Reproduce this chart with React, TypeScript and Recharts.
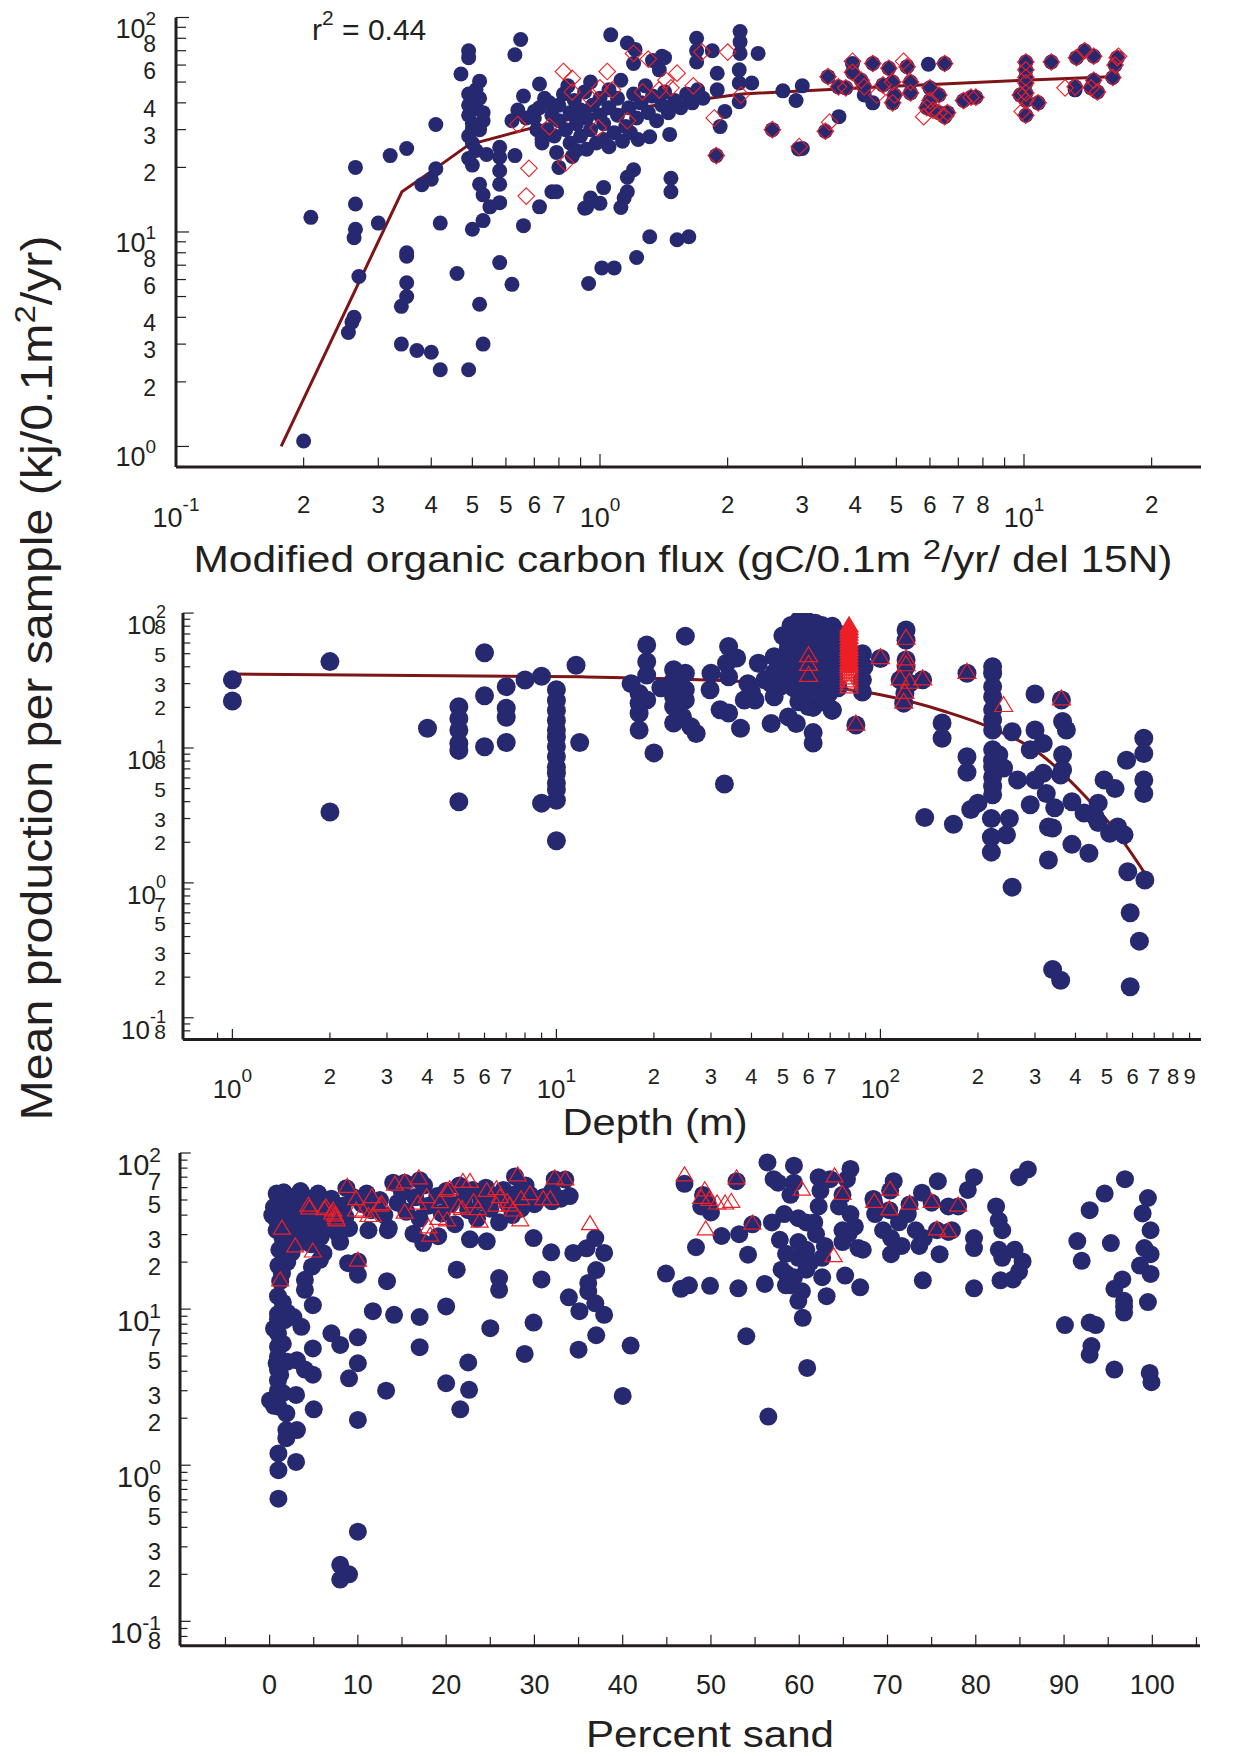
import React from "react";
import { ScatterChart, Scatter, XAxis, YAxis } from "recharts";

const INK = "#231F20";
const NAVY = "#272970";
const RED = "#EC2027";
const FIT = "#7D1416";
const FONT = "'Liberation Sans', Arial, Helvetica, sans-serif";

type Pt = [number, number];
const toXY = (a: Pt[]) => a.map(([x, y]) => ({ x, y }));

/* ---------- panel A: modified organic carbon flux ---------- */
const fluxTicks = [0.1, 0.2, 0.3, 0.4, 0.5, 0.6, 0.7, 0.8, 0.9, 1, 2, 3, 4, 5, 6, 7, 8, 9, 10, 20];
const fluxTickText = ["10^-1", "2", "3", "4", "5", "5", "6", "7", "", "10^0", "2", "3", "4", "5", "6", "7", "8", "", "10^1", "2"];
const prodTicksA = [1, 2, 3, 4, 5, 6, 7, 8, 9, 10, 20, 30, 40, 50, 60, 70, 80, 90, 100];
const prodTextA = ["10^0", "2", "3", "4", "", "6", "", "8", "", "10^1", "2", "3", "4", "", "6", "", "8", "", "10^2"];

const fluxDots: Pt[] = [
  [0.2, 1.06], [0.208, 11.7], [0.265, 20], [0.265, 13.5], [0.265, 10.3], [0.263, 9.4], [0.27, 6.2], [0.263, 4.0], [0.26, 3.8], [0.255, 3.4],
  [0.3, 11], [0.32, 22.7], [0.35, 24.5], [0.35, 8.0], [0.35, 7.7], [0.35, 5.8], [0.35, 5.0], [0.34, 4.5], [0.34, 3.0], [0.37, 2.8],
  [0.4, 2.75], [0.42, 2.28], [0.49, 2.28], [0.53, 3.0], [0.52, 4.6], [0.46, 6.4], [0.58, 7.2], [0.62, 5.7], [0.42, 11], [0.41, 31.7],
  [0.38, 16.6], [0.4, 17.6], [0.41, 19.7], [0.47, 54.5], [0.49, 70], [0.49, 65], [0.52, 50.5],
  [0.49, 44], [0.5, 41], [0.51, 38], [0.49, 35], [0.5, 32], [0.52, 30], [0.49, 28], [0.5, 26], [0.51, 24], [0.49, 22], [0.5, 20.5],
  [0.52, 42], [0.53, 36], [0.53, 33], [0.51, 46], [0.49, 39], [0.5, 30],
  [0.54, 23], [0.5, 10.3], [0.53, 11.3], [0.52, 16.7], [0.53, 14.9], [0.55, 13.1], [0.58, 13.7], [0.58, 16.7], [0.58, 19.3], [0.58, 22.3],
  [0.58, 24.8], [0.63, 22.7], [0.64, 37], [0.65, 79], [0.63, 67], [0.66, 43], [0.66, 10.7], [0.72, 13.1], [0.72, 49], [0.77, 15.4],
  [0.79, 15.4], [0.94, 5.75], [0.92, 12.9], [1.0, 13.6], [1.02, 16.1], [1.01, 6.8], [0.62, 33], [0.67, 34],
  [0.76, 40], [0.7, 36.5], [0.71, 30], [0.73, 27], [0.79, 23.5], [0.8, 20], [0.86, 22.5], [0.93, 24.3], [0.93, 13], [0.95, 14.4],
  [1.05, 25], [1.13, 26.5], [1.23, 27], [1.31, 27.8], [1.46, 28.5], [1.2, 19.5], [1.16, 18], [1.16, 15.4], [1.14, 14.4], [1.12, 13],
  [1.47, 17.8], [1.47, 15.4], [1.31, 9.5], [1.52, 9.2], [1.62, 9.5], [1.22, 7.6], [1.08, 6.8],
  [0.7, 34], [0.72, 38], [0.74, 42], [0.75, 30], [0.77, 35], [0.78, 28], [0.8, 33], [0.8, 39], [0.82, 44], [0.83, 30],
  [0.85, 26], [0.85, 36], [0.87, 41], [0.88, 32], [0.9, 28], [0.9, 37], [0.92, 45], [0.93, 34], [0.95, 30], [0.96, 39],
  [0.98, 26], [1.0, 35], [1.0, 42], [1.02, 32], [1.05, 38], [1.05, 46], [1.08, 29], [1.1, 35], [1.1, 42], [1.12, 51],
  [1.15, 31], [1.17, 38], [1.2, 44], [1.22, 34], [1.25, 40], [1.28, 48], [1.3, 36], [1.33, 43], [1.36, 33], [1.4, 39],
  [1.42, 45], [1.45, 36], [1.5, 41], [1.55, 38], [1.6, 44], [1.65, 40], [1.7, 46], [1.75, 42], [0.73, 26], [0.88, 24],
  [1.02, 27], [1.18, 29], [0.95, 50], [0.84, 48],
  [1.06, 83], [1.16, 76], [1.21, 71], [1.2, 61], [1.33, 63], [1.4, 66], [1.38, 57], [1.42, 65], [1.69, 80], [1.69, 70],
  [1.69, 62], [1.84, 70], [2.14, 86], [2.14, 77], [2.14, 68], [2.13, 57], [2.13, 49.5], [2.13, 40.5], [2.36, 68], [2.28, 49.5],
  [1.89, 55], [1.89, 46], [1.97, 36.5], [1.92, 31], [2.7, 45.5], [3.0, 48], [2.9, 41], [3.66, 34.5], [3.0, 24.5],
  [2.55, 30], [2.94, 24.4], [1.88, 22.7], [3.4, 29.5], [3.45, 53], [3.65, 47.5], [3.8, 47], [3.94, 61], [3.94, 55.5], [4.13, 51],
  [4.2, 47.5], [4.2, 43.5], [4.4, 40], [4.4, 61], [4.8, 58], [4.65, 48.5], [4.9, 50], [5.3, 59], [5.4, 50], [5.4, 44.5],
  [4.95, 43.5], [4.9, 40], [5.95, 60.5], [6.5, 61], [6.0, 47], [6.3, 43.5], [6.0, 41], [5.9, 38], [6.1, 37], [6.3, 36],
  [6.6, 36], [6.5, 34.5], [7.2, 41], [7.5, 42.5], [7.7, 42.5], [10.1, 62], [10.1, 57], [10.1, 52.5], [10.1, 49.5], [10.1, 44.5],
  [10.1, 41], [9.8, 43.5], [10.8, 40], [10.1, 35], [11.6, 62], [13.3, 65], [13.9, 70], [14.6, 66], [13.2, 47.5], [13.2, 46],
  [14.6, 51], [14.9, 45], [14.4, 47], [16.2, 52.5], [16.4, 60], [16.6, 65],
];

const fluxDiamonds: Pt[] = [
  [0.64, 31.7], [0.68, 19.8], [0.67, 14.7], [0.76, 31], [0.83, 21], [0.82, 56], [0.86, 52], [0.86, 45], [0.95, 42], [1.0, 47],
  [1.04, 56], [1.07, 46], [0.99, 30.6], [1.16, 33], [1.2, 68], [1.3, 64], [1.26, 45], [1.38, 46], [1.43, 51], [1.47, 47],
  [1.52, 55], [1.66, 48], [1.74, 69], [2.0, 69], [2.15, 43.5], [1.86, 34], [1.88, 22.7], [2.55, 30], [2.95, 25],
  [3.48, 32.5], [3.4, 29.5], [3.45, 53], [3.65, 47.5], [3.8, 47], [3.94, 62.5], [3.94, 55.5], [4.13, 51], [4.2, 47.5], [4.4, 61],
  [4.5, 43.5], [4.8, 58], [4.65, 48.5], [4.9, 50], [5.2, 62.5], [5.3, 59], [5.4, 50], [5.4, 44.5], [4.95, 43.5], [4.9, 40],
  [6.5, 61], [6.0, 47], [6.3, 43.5], [6.0, 41], [5.9, 38], [6.1, 37], [6.3, 36], [6.6, 36], [6.5, 34.5], [5.8, 34.5],
  [7.2, 41], [7.5, 42.5], [7.7, 42.5], [10.1, 62], [10.1, 57], [10.1, 52.5], [10.1, 49.5], [10.1, 44.5], [10.1, 41], [9.8, 43.5],
  [10.8, 40], [10.1, 35], [9.9, 36.5], [11.6, 62], [13.3, 65], [13.9, 70], [14.6, 66], [13.2, 47.5], [12.5, 47], [14.6, 51],
  [14.9, 45], [14.4, 47], [16.2, 52.5], [16.4, 60], [16.6, 65], [16.7, 66],
];

const fluxFit: Pt[] = [
  [0.177, 1.0], [0.341, 15.4], [0.42, 20.5], [0.49, 25.5], [0.71, 31], [1.0, 36], [2.16, 44], [4.65, 47.5], [10, 51], [16, 53],
];

/* ---------- panel B: depth ---------- */
const depthTicks = [0.9, 1, 2, 3, 4, 5, 6, 7, 8, 9, 10, 20, 30, 40, 50, 60, 70, 80, 90, 100, 200, 300, 400, 500, 600, 700, 800, 900];
const depthTickText = ["", "10^0", "2", "3", "4", "5", "6", "7", "", "", "10^1", "2", "3", "4", "5", "6", "7", "", "", "10^2", "2", "3", "4", "5", "6", "7", "8", "9"];
const prodTicksB = [0.08, 0.09, 0.1, 0.2, 0.3, 0.4, 0.5, 0.6, 0.7, 0.8, 0.9, 1, 2, 3, 4, 5, 6, 7, 8, 9, 10, 20, 30, 40, 50, 60, 70, 80, 90, 100];
const prodTextB = ["8", "", "10^-1", "2", "3", "", "5", "", "7", "", "", "10^0", "2", "3", "", "5", "", "", "8", "", "10^1", "2", "3", "", "5", "", "", "8", "", "10^2"];

const depthDots: Pt[] = [
  [1.0, 32], [1.0, 22.3], [2.0, 43.7], [2.0, 3.35], [4.0, 14], [5, 20.2], [5, 16.5], [5, 13.6], [5, 10.8], [5, 9.6],
  [5, 4.0], [6, 50.8], [6, 24.4], [6, 10.2], [7, 28.5], [7, 19.7], [7, 16.9], [7, 11], [8, 31.9], [9, 34],
  [9, 3.9], [10, 27], [10, 22.5], [10, 19], [10, 16], [10, 13.6], [10, 12], [10, 10.2], [10, 8.6], [10, 7.2],
  [10, 6.5], [10, 5.5], [10, 4.9], [10, 4.1], [10, 2.05], [11.5, 41], [11.8, 11],
  [19, 58], [19, 43.6], [19, 34.7], [18, 25.4], [18, 21.5], [18, 18.1], [18, 13.6], [19, 22.7], [20, 9.2], [17, 30], [21, 28],
  [25, 67.5], [23, 38], [23, 31.8], [23, 24], [23, 20.3], [23, 15.3], [25, 35.8], [25, 27], [25, 22.7], [24.5, 17], [26, 14.4], [27, 12.8],
  [30, 35.8], [29.8, 27], [34, 56.5], [36, 46.5], [33.5, 42.5], [34, 33.7], [32, 19.2], [34, 18.2], [37, 14], [33, 5.4],
  [38, 22.7], [41, 22.7], [39, 30], [40, 26], [42, 42.5], [44, 32], [47, 47.5], [47, 36], [49, 28.5], [46, 15.2],
  [52, 17], [55, 15.2], [62, 13], [62, 10.9], [71, 19.2], [60, 20.3],
  [53, 81], [56, 88], [60, 86], [63, 84], [66, 81], [71, 80], [58, 75], [64, 72], [68, 70], [50, 68],
  [54, 62], [60, 62], [66, 60], [70, 64], [74, 56], [52, 55], [57, 50], [62, 52], [67, 48], [72, 50],
  [50, 45], [55, 42], [60, 40], [65, 43], [70, 38], [74, 44], [52, 36], [57, 33], [62, 35], [67, 31],
  [72, 33], [54, 28], [59, 26], [64, 28], [69, 25], [74, 28], [56, 22], [62, 20], [66, 22], [71, 19],
  [48, 38], [46, 30], [47, 24], [75, 64], [73, 72], [88, 50], [89, 40], [88, 32], [88, 26],
  [84, 14.8], [100, 46], [120, 75], [120, 63], [120, 45], [120, 40], [115, 32], [123, 30.2], [135, 32], [119, 25.4],
  [118, 21.5], [155, 15.3], [155, 11.8], [137, 3.05], [168, 2.72],
  [185, 35.8], [222, 40], [222, 35.8], [222, 28.5], [222, 24], [222, 19.2], [222, 16.2], [222, 13.6], [222, 9.7], [222, 8.1],
  [222, 7.25], [222, 6.1], [222, 5.2], [222, 4.5], [232, 8.9], [240, 7.1], [185, 8.6], [185, 6.6], [190, 3.5], [200, 3.9],
  [220, 3.0], [250, 3.0], [220, 2.18], [245, 2.27], [220, 1.69], [255, 0.93], [255, 13.2], [265, 5.8], [300, 25.1], [300, 13.6],
  [318, 10.8], [290, 9.7], [290, 3.8], [325, 4.6], [345, 3.6], [300, 5.8], [318, 6.5], [330, 2.6], [340, 2.55], [330, 1.48],
  [340, 0.228], [360, 0.19], [362, 22.7], [365, 15.7], [375, 13.6], [365, 8.9], [365, 6.9], [360, 6.3], [390, 4.0], [390, 1.93],
  [425, 3.3], [440, 1.66], [470, 3.9], [460, 3.1], [470, 2.8], [490, 5.8], [530, 5.0], [510, 2.33], [540, 2.6], [565, 2.27],
  [575, 8.1], [650, 11.8], [650, 9.1], [650, 5.8], [650, 4.6], [580, 1.21], [655, 1.05], [590, 0.6], [630, 0.37], [590, 0.17],
];

const depthTriangles: Pt[] = [
  [60, 47.5], [60, 41], [60, 34], [84, 14.8], [100, 46], [120, 64], [120, 45], [120, 40.7], [115, 32], [123, 30.2],
  [135, 32], [119, 25.4], [118, 21.5], [185, 35.8], [240, 20.3], [362, 22.7],
  [80, 37.9], [80, 36], [80, 34.2], [80, 32.5], [80, 30.9], [80, 29.3], [80, 27.9],
];

// the stack of overlapping triangles near 80 m that prints as a solid red bar
const depthTriangleStack: Pt[] = [
  [80, 79], [80, 75.5], [80, 72], [80, 68.5], [80, 65], [80, 61.5], [80, 58.5], [80, 55.5], [80, 52.8], [80, 50.2],
  [80, 47.7], [80, 45.3], [80, 43], [80, 41], [80, 39.5],
];

const depthFit: Pt[] = [
  [1, 35.3], [12, 33.7], [38.5, 31], [80, 27], [100, 24.8], [160, 18.5], [215, 14.4], [310, 9.1], [430, 4.35], [520, 2.6], [650, 1.21],
];

/* ---------- panel C: percent sand ---------- */
const sandTicks = [-5, 0, 5, 10, 15, 20, 25, 30, 35, 40, 45, 50, 55, 60, 65, 70, 75, 80, 85, 90, 95, 100, 105];
const sandTickText = ["", "0", "", "10", "", "20", "", "30", "", "40", "", "50", "", "60", "", "70", "", "80", "", "90", "", "100", ""];
const prodTicksC = prodTicksB;
const prodTextC = ["8", "", "10^-1", "2", "3", "", "5", "", "6", "", "", "10^0", "2", "3", "", "5", "", "7", "", "", "10^1", "2", "3", "", "5", "", "7", "", "", "10^2"];

const sandDots: Pt[] = [
  [1.2, 15.1], [0.95, 12.1], [0.95, 9.3], [0.95, 8.6], [0.95, 7.0], [0.95, 5.75], [0.95, 4.96], [0.95, 4.1], [0.95, 3.5], [0.95, 3.0],
  [0.05, 2.6], [1.0, 2.37], [1.9, 2.15], [1.9, 1.68], [3.1, 1.68], [1.9, 1.49], [1.0, 1.19], [1.0, 0.93], [1.0, 0.61], [3.0, 1.05],
  [3.0, 2.82], [5.0, 2.28], [1.7, 8.5], [2.7, 8.9], [3.6, 7.7], [3.1, 4.7], [4.0, 4.1], [4.9, 3.8], [4.9, 5.6], [4.9, 10.6],
  [4.0, 13.3], [4.0, 15.4], [4.8, 18.7], [5.7, 20.7], [6.1, 22.8], [7.0, 7.0], [8.0, 5.9], [10.0, 6.6], [10.0, 4.5], [9.0, 3.6],
  [10.0, 1.95], [10.0, 0.375], [8.0, 0.23], [9.0, 0.2], [8.0, 0.185], [8.9, 19.7], [10.0, 16.6], [10.0, 20.2], [11.7, 9.7], [13.3, 15.1],
  [14.1, 9.2], [13.2, 3.0], [17.0, 8.9], [17.0, 5.7], [20.0, 10.4], [21.2, 17.9], [20, 3.35], [22.5, 4.55], [22.6, 3.04], [21.6, 2.28],
  [25, 7.55], [26.0, 15.8], [26.0, 13.3], [29.9, 8.2], [28.9, 5.16], [30.8, 15.5], [29.9, 28.5], [31.9, 23.1], [34.4, 22.9], [35.9, 24.5],
  [36.9, 28.5], [37.9, 22.9], [37.0, 17.8], [36.1, 14.7], [36.1, 13], [36.9, 10.9], [37.9, 9.2], [33.9, 11.9], [35.1, 9.7], [35.0, 5.5],
  [37.0, 6.8], [40.0, 2.78], [40.9, 5.84], [22.7, 28], [24.6, 27.2], [17.4, 26.5], [19.1, 29.3], [16.3, 30.4], [13.4, 32], [11.2, 32],
  [27.8, 70.8], [32.3, 68], [33.5, 67.6], [29.5, 54], [17, 67], [14, 64.5], [15.3, 64.5], [8.7, 59.5],
  [1.5, 11], [2, 9.5], [0.5, 7.5], [1.5, 6], [0.8, 4.5], [1.2, 3.8], [2.0, 4.6], [0.5, 2.4], [1.5, 2.9],
  [0.5, 45], [0.7, 38], [0.8, 32], [1.0, 50], [1.2, 42], [1.3, 35], [1.5, 28], [1.6, 47], [1.8, 40], [2.0, 33],
  [2.1, 26], [2.3, 52], [2.5, 44], [2.7, 37], [2.9, 30], [3.1, 48], [3.3, 41], [3.5, 34], [3.6, 27], [3.8, 53],
  [4.0, 45], [4.3, 38], [4.5, 31], [4.7, 26], [5.0, 49], [5.3, 42], [5.5, 35], [5.8, 29], [6.0, 47], [6.3, 40],
  [6.6, 33], [7.0, 51], [7.2, 44], [7.5, 37], [7.8, 30], [8.0, 27], [8.3, 46], [8.6, 39], [9.0, 33], [1.1, 24],
  [2.5, 23], [1.6, 56], [0.8, 55], [3.5, 57], [0.3, 40], [5.5, 55], [1.0, 19], [2.0, 20], [1.4, 17],
  [9.5, 52], [10.5, 47], [11, 55], [11.5, 43], [12.5, 50], [13, 40], [13.5, 33], [14.5, 48], [15, 56], [15.5, 42],
  [16.5, 52], [17, 38], [17.5, 62], [18, 46], [19, 53], [19.5, 41], [20, 57], [20.5, 47], [21, 35], [21.5, 62],
  [22, 51], [22.5, 43], [23, 58], [23.5, 38], [24, 49], [24.5, 60], [25, 44], [25.5, 53], [26, 36], [26.5, 58],
  [27, 47], [27.5, 40], [28, 55], [28.5, 44], [29, 62], [29.5, 50], [30, 47], [31, 52], [32, 49], [33, 51], [34, 53], [32, 57],
  [44.9, 16.9], [46.6, 13.5], [47.5, 14.2], [47.0, 63.5], [48.3, 24.9], [49.1, 53.9], [49.6, 48.1], [48.9, 45.5], [50.0, 41.6], [52.9, 66],
  [51.2, 29.4], [53.2, 30.2], [49.9, 14.1], [53.1, 13.6], [54.0, 6.7], [54.2, 22.3], [54.7, 34.9], [56.9, 35.9], [56.1, 14.5], [56.4, 87],
  [57.1, 68], [57.6, 64.5], [58.3, 40.6], [57.8, 27.8], [58.5, 22.6], [58.5, 14.2], [58.5, 16.9], [59.4, 83], [59.4, 64.5], [59.0, 54],
  [59.9, 38.2], [60.8, 35.9], [59.9, 26.9], [60.8, 24.0], [59.9, 21.3], [61.3, 20.1], [58.0, 17.9], [59.4, 16.0], [60.8, 17.9], [59.0, 14.2],
  [60.3, 13.0], [59.9, 11.3], [60.4, 8.8], [60.9, 4.2], [56.5, 2.05], [62.2, 70], [62.4, 57.5], [62.2, 45.5], [61.7, 35.9], [61.9, 30.2],
  [62.9, 25.4], [62.6, 21.3], [62.6, 16.0], [63.1, 12.1], [65.2, 16.4], [65.8, 79], [65.4, 68], [64.5, 45.5], [65.8, 40.6], [64.9, 32],
  [66.3, 33.8], [64.9, 26.9], [66.7, 24.6], [65.6, 30.3], [66.9, 13.8], [67.2, 24], [68.4, 50.8], [68.6, 40.6], [69.5, 32], [70.4, 28.5],
  [71.6, 25.4], [70.4, 22.5], [71.3, 36], [72.3, 40.6], [70.7, 66], [73.9, 55.7], [74.0, 15.3], [73.2, 32], [74.1, 28.5], [73.6, 25.4],
  [75.7, 66], [75.9, 22.5], [76.9, 45.5], [77.3, 32], [79.8, 70], [79.1, 58], [79.8, 28.5], [79.8, 24.6], [79.8, 13.6], [82.3, 45.5],
  [82.6, 37], [83.0, 32], [82.6, 24], [83.0, 21.3], [84.4, 24], [85.3, 20.2], [84.9, 17.4], [84.2, 15.5], [82.8, 15.3], [84.9, 70],
  [85.9, 78.5], [90.1, 7.9], [91.5, 27.3], [92.0, 20.4], [92.9, 43], [92.9, 8.2], [93.6, 7.9], [93.1, 5.8], [92.9, 5.1], [94.6, 55],
  [95.3, 26.5], [95.7, 4.1], [96.9, 68], [96.6, 15.5], [95.7, 13.5], [96.8, 11.3], [96.8, 9.5], [96.8, 10.4], [99.5, 51.5], [98.9, 41],
  [99.8, 32], [99.1, 24.6], [99.8, 22.5], [98.6, 19.0], [99.8, 16.8], [99.5, 11.1], [99.7, 3.9], [99.9, 3.4],
  [63.5, 68], [64.9, 54], [68.5, 48], [70.3, 57.5], [70.2, 43], [72.5, 46.8], [75, 48], [75.6, 32], [76.9, 31.2], [78, 45.5],
];

const sandTriangles: Pt[] = [
  [1.4, 32.4], [2.9, 24.9], [4.9, 23.1], [1.2, 15.1], [4.5, 43.6], [6.4, 44.2], [7.2, 42.3], [7.4, 39.4], [7.6, 36.6], [8.8, 60],
  [9.8, 50], [9.8, 42.3], [10.6, 41.5], [11.6, 51.5], [12.5, 45.5], [12.7, 46.5], [11.7, 39], [11.2, 39], [14.2, 62], [15.3, 64],
  [16.9, 68], [15.3, 41], [16.8, 46.8], [17.8, 51.5], [18.0, 33], [18.2, 29.2], [19.3, 47.9], [20.1, 56.5], [20.4, 58], [19.1, 37.4],
  [20.1, 36.6], [21.4, 44.5], [21.8, 43.3], [21.9, 64.5], [22.7, 64.5], [23.1, 47.9], [23.6, 43.2], [23.8, 35.9], [24.6, 56.5], [25.7, 58],
  [26.1, 51.5], [25.7, 45.5], [26.9, 47.9], [27.2, 45.6], [27.6, 42.3], [28.4, 36.6], [28.5, 50], [29.5, 53.9], [31, 50], [31.8, 50],
  [28.1, 71], [32.3, 68], [33.5, 67], [36.3, 34.6], [10.0, 20.2], [4.4, 45.5], [6.2, 43.2], [7.1, 40.6], [7.5, 37.6],
  [47, 71], [49.4, 32], [49.3, 57], [48.9, 51], [49.8, 49.5], [50.7, 46.9], [51.6, 46.9], [52.3, 48.1], [52.9, 68], [54.7, 34.9],
  [60.3, 57.5], [64.0, 70], [64.9, 54], [63.9, 21.6], [68.5, 48], [70.3, 57.5], [70.2, 43], [72.5, 46.8], [75.0, 48], [75.6, 32],
  [76.9, 31.2], [78.0, 45.5],
];

/* ---------- axis tick rendering ---------- */
type TickStyle = {
  major: number; minor: number; gap: number;
  digit: number; digitDy: number; pow: number; powDy: number; sup: number; supDy: number;
};

const isDecade = (v: number) => v > 0 && Math.abs(Math.log10(v) - Math.round(Math.log10(v))) < 1e-6;
const isTen = (v: number) => Math.abs(v % 10) < 1e-9;

function tickText(text: string, x: number, y: number, anchor: "middle" | "end", s: TickStyle) {
  if (!text) return null;
  if (text.startsWith("10^")) {
    return (
      <text x={x} y={y + s.powDy} textAnchor={anchor} fill={INK} fontFamily={FONT}>
        <tspan fontSize={s.pow}>10</tspan>
        <tspan fontSize={s.sup} dy={s.supDy - s.powDy}>{text.slice(3)}</tspan>
      </text>
    );
  }
  return (
    <text x={x} y={y + s.digitDy} textAnchor={anchor} fontSize={s.digit} fill={INK} fontFamily={FONT}>
      {text}
    </text>
  );
}

const lookup = (ticks: number[], texts: string[], v: number) => {
  const i = ticks.findIndex((t) => Math.abs(t - v) < 1e-9);
  return i >= 0 ? texts[i] : "";
};

function bottomTick(ticks: number[], texts: string[], s: TickStyle, isMajor: (v: number) => boolean) {
  return (p: any) => {
    const v = p.payload.value;
    const len = isMajor(v) ? s.major : s.minor;
    return (
      <g>
        <line x1={p.x} x2={p.x} y1={p.y} y2={p.y - len} stroke={INK} strokeWidth={1.2} />
        {tickText(lookup(ticks, texts, v), p.x, p.y, "middle", s)}
      </g>
    );
  };
}

function leftTick(ticks: number[], texts: string[], s: TickStyle) {
  return (p: any) => {
    const v = p.payload.value;
    const len = isDecade(v) ? s.major : s.minor;
    return (
      <g>
        <line x1={p.x} x2={p.x + len} y1={p.y} y2={p.y} stroke={INK} strokeWidth={1.2} />
        {tickText(lookup(ticks, texts, v), p.x - s.gap, p.y, "end", s)}
      </g>
    );
  };
}

const AX = { stroke: INK, strokeWidth: 3 };

const dot = (r: number) => (p: any) => <circle cx={p.cx} cy={p.cy} r={r} fill={NAVY} />;
const diamond = (h: number) => (p: any) => (
  <path d={`M${p.cx},${p.cy - h}L${p.cx + h},${p.cy}L${p.cx},${p.cy + h}L${p.cx - h},${p.cy}Z`} fill="none" stroke={RED} strokeWidth={1.1} />
);
const triangle = (w: number, h: number, filled: boolean) => (p: any) => (
  <path
    d={`M${p.cx},${p.cy - (2 * h) / 3}L${p.cx + w / 2},${p.cy + h / 3}L${p.cx - w / 2},${p.cy + h / 3}Z`}
    fill={filled ? RED : "none"}
    stroke={RED}
    strokeWidth={1.2}
  />
);
const noMark = () => <g />;

/* ---------- panels ---------- */
function FluxPanel() {
  const xs: TickStyle = { major: 13, minor: 9.6, gap: 0, digit: 24, digitDy: 46, pow: 27, powDy: 60, sup: 19, supDy: 44 };
  const ys: TickStyle = { major: 13, minor: 10, gap: 20, digit: 23, digitDy: 14, pow: 27, powDy: 20, sup: 19, supDy: 7 };
  return (
    <ScatterChart width={1234} height={540} margin={{ top: 17.5, right: 33, bottom: 0, left: 0 }}>
      <XAxis type="number" dataKey="x" scale="log" domain={[0.1, 26.15]} allowDataOverflow ticks={fluxTicks} interval={0}
        tickLine={false} tickSize={0} tickMargin={0} height={73} axisLine={AX} tick={bottomTick(fluxTicks, fluxTickText, xs, isDecade)} />
      <YAxis type="number" dataKey="y" scale="log" domain={[0.802, 100]} allowDataOverflow ticks={prodTicksA} interval={0}
        tickLine={false} tickSize={0} tickMargin={0} width={176} axisLine={AX} tick={leftTick(prodTicksA, prodTextA, ys)} />
      <Scatter data={toXY(fluxFit)} shape={noMark} line={{ stroke: FIT, strokeWidth: 3 }} isAnimationActive={false} />
      <Scatter data={toXY(fluxDots)} shape={dot(7.5)} isAnimationActive={false} />
      <Scatter data={toXY(fluxDiamonds)} shape={diamond(8.3)} isAnimationActive={false} />
    </ScatterChart>
  );
}

function DepthPanel() {
  const xs: TickStyle = { major: 10.7, minor: 7, gap: 0, digit: 22, digitDy: 44, pow: 26, powDy: 58, sup: 19, supDy: 42 };
  const ys: TickStyle = { major: 10.7, minor: 7.3, gap: 17, digit: 21, digitDy: 8, pow: 26, powDy: 21, sup: 18, supDy: 5 };
  return (
    <ScatterChart width={1234} height={560} margin={{ top: 53.1, right: 33, bottom: 0, left: 0 }}>
      <XAxis type="number" dataKey="x" scale="log" domain={[0.704, 976]} allowDataOverflow ticks={depthTicks} interval={0}
        tickLine={false} tickSize={0} tickMargin={0} height={80.4} axisLine={AX} tick={bottomTick(depthTicks, depthTickText, xs, isDecade)} />
      <YAxis type="number" dataKey="y" scale="log" domain={[0.0689, 100]} allowDataOverflow ticks={prodTicksB} interval={0}
        tickLine={false} tickSize={0} tickMargin={0} width={183} axisLine={AX} tick={leftTick(prodTicksB, prodTextB, ys)} />
      <Scatter data={toXY(depthFit)} shape={noMark} line={{ stroke: FIT, strokeWidth: 3 }} lineJointType="monotoneX" isAnimationActive={false} />
      <Scatter data={toXY(depthDots)} shape={dot(9.5)} isAnimationActive={false} />
      <Scatter data={toXY(depthTriangleStack)} shape={triangle(18, 15, true)} isAnimationActive={false} />
      <Scatter data={toXY(depthTriangles)} shape={triangle(18, 15, false)} isAnimationActive={false} />
    </ScatterChart>
  );
}

function SandPanel() {
  const xs: TickStyle = { major: 11, minor: 8.6, gap: 0, digit: 27, digitDy: 48, pow: 27, powDy: 48, sup: 19, supDy: 36 };
  const ys: TickStyle = { major: 10.7, minor: 7.5, gap: 19, digit: 24, digitDy: 13, pow: 29, powDy: 22, sup: 21, supDy: 8.5 };
  return (
    <ScatterChart width={1234} height={626} margin={{ top: 23, right: 34, bottom: 0, left: 0 }}>
      <XAxis type="number" dataKey="x" domain={[-10.15, 105.4]} allowDataOverflow ticks={sandTicks} interval={0}
        tickLine={false} tickSize={0} tickMargin={0} height={110.3} axisLine={AX} tick={bottomTick(sandTicks, sandTickText, xs, isTen)} />
      <YAxis type="number" dataKey="y" scale="log" domain={[0.0698, 100]} allowDataOverflow ticks={prodTicksC} interval={0}
        tickLine={false} tickSize={0} tickMargin={0} width={180} axisLine={AX} tick={leftTick(prodTicksC, prodTextC, ys)} />
      <Scatter data={toXY(sandDots)} shape={dot(9)} isAnimationActive={false} />
      <Scatter data={toXY(sandTriangles)} shape={triangle(17, 14, false)} isAnimationActive={false} />
    </ScatterChart>
  );
}

export default function App() {
  return (
    <div style={{ position: "absolute", left: 0, top: 0, width: 1234, height: 1756, background: "#fff", overflow: "hidden" }}>
      <div style={{ position: "absolute", left: 0, top: 0 }}>
        <FluxPanel />
      </div>
      <div style={{ position: "absolute", left: 0, top: 560 }}>
        <DepthPanel />
      </div>
      <div style={{ position: "absolute", left: 0, top: 1130 }}>
        <SandPanel />
      </div>
      <svg width={1234} height={1756} style={{ position: "absolute", left: 0, top: 0, pointerEvents: "none" }} fontFamily={FONT} fill={INK}>
        <text transform="translate(52,678) rotate(-90)" textAnchor="middle" fontSize={44} textLength={885} lengthAdjust="spacingAndGlyphs">
          Mean production per sample (kj/0.1m<tspan fontSize={30} dy={-17}>2</tspan><tspan dy={17}>/yr)</tspan>
        </text>
        <text x={312} y={40} fontSize={30}>
          r<tspan fontSize={21} dy={-15}>2</tspan><tspan dy={15}> = 0.44</tspan>
        </text>
        <text x={683} y={572} textAnchor="middle" fontSize={36} textLength={979} lengthAdjust="spacingAndGlyphs">
          Modified organic carbon flux (gC/0.1m <tspan fontSize={28} dy={-13}>2</tspan><tspan dy={13}>/yr/ del 15N)</tspan>
        </text>
        <text x={655} y={1135} textAnchor="middle" fontSize={36} textLength={185} lengthAdjust="spacingAndGlyphs">
          Depth (m)
        </text>
        <text x={710} y={1747} textAnchor="middle" fontSize={36} textLength={248} lengthAdjust="spacingAndGlyphs">
          Percent sand
        </text>
      </svg>
    </div>
  );
}
